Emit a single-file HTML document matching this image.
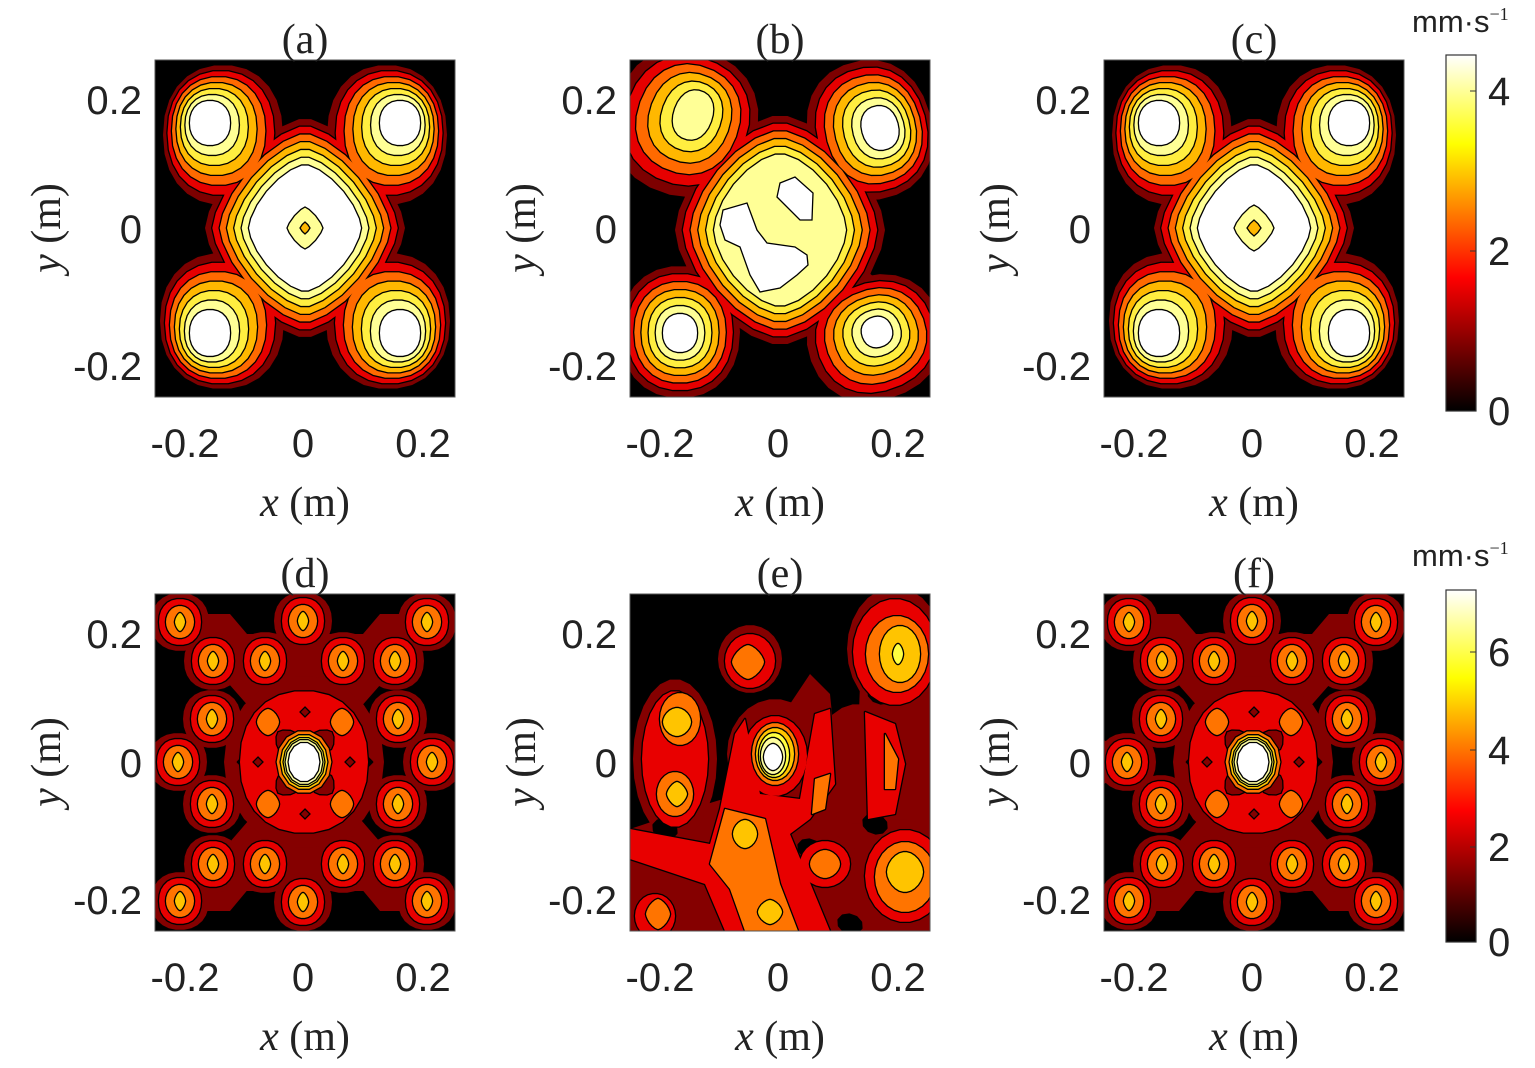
<!DOCTYPE html>
<html><head><meta charset="utf-8"><style>
html,body{margin:0;padding:0;background:#fff;}
svg{display:block}
.tk{font-family:"Liberation Sans",Arial,sans-serif;font-size:40px;fill:#222}
.lb{font-family:"Liberation Serif","Times New Roman",serif;font-size:42px;fill:#222}
</style></head><body>
<svg id="s" width="1535" height="1068" viewBox="0 0 1535 1068" xmlns="http://www.w3.org/2000/svg">
<defs>
<linearGradient id="hot" x1="0" y1="1" x2="0" y2="0">
<stop offset="0" stop-color="#000"/><stop offset="0.375" stop-color="#ff0000"/><stop offset="0.75" stop-color="#ffff00"/><stop offset="1" stop-color="#fff"/>
</linearGradient>
</defs>
</svg>
<script>
const S=document.getElementById('s');const NS='http://www.w3.org/2000/svg';
function el(t,a,p){const e=document.createElementNS(NS,t);for(const k in a)e.setAttribute(k,a[k]);(p||S).appendChild(e);return e;}
function sh(cx,cy,rx,ry,p,rot,n){n=n||26;rot=(rot||0)*Math.PI/180;const pts=[];for(let i=0;i<n;i++){const t=2*Math.PI*i/n,c=Math.cos(t),s=Math.sin(t);let x=rx*Math.sign(c)*Math.pow(Math.abs(c),2/p),y=ry*Math.sign(s)*Math.pow(Math.abs(s),2/p);pts.push([cx+x*Math.cos(rot)-y*Math.sin(rot),cy+x*Math.sin(rot)+y*Math.cos(rot)]);}return pts;}
const TOP=['#7d0000','#000','#e60000','#ff6a00','#ffb800','#ffee40','#ffff96','#ffffff'];
const BOT=['#850000','#000','#e80000','#ff7400','#ffc400','#ffff40','#ffffa0','#ffffff'];
function P(colors){return {L:colors.map(c=>({fill:c,sh:[]})),post:[]};}
function li(k){return k==0?0:k+1;}
function blob(pn,start,o,i,count,p,rot){for(let k=0;k<count;k++){const t=count==1?0:k/(count-1);const v=o.map((a,j)=>a+(i[j]-a)*t);pn.L[li(start+k)].sh.push(sh(v[0],v[1],v[2],v[3],p||2.2,rot||0));}}
function E(pn,lv,cx,cy,rx,ry,p,rot){pn.L[li(lv)].sh.push(sh(cx,cy,rx,ry,p||2,rot||0));}
function poly(pn,lv,pts){pn.L[li(lv)].sh.push(pts);}
function hole(pn,pts){pn.L[1].sh.push(pts);}
function post(pn,fill,pts){pn.post.push({fill,pts});}
function mx(pts){return pts.map(q=>[300-q[0],q[1]]);}
function my(pts){return pts.map(q=>[q[0],337-q[1]]);}
function sq(x,y,r){return [[x,y-r],[x+r,y],[x,y+r],[x-r,y]];}

function panelA(big){const pn=P(TOP);
 blob(pn,0,[68,75,60,70],[55,63,20,22],7);
 blob(pn,0,[232,75,60,70],[245,63,20,22],7);
 blob(pn,0,[67,261,62,68],[55,273,20,23],7);
 blob(pn,0,[233,261,62,68],[245,273,20,23],7);
 blob(pn,0,[150,168,100,110],[150,168,56,63],7,1.5);
 const br=[[110,62],[140,92],[85,145],[55,115]];
 for(const b of [br,mx(br),my(br),mx(my(br))]) poly(pn,0,b);
 const hs=[[105,85],[90,101],[73,117]];
 for(const h of hs){for(const q of [[h[0],h[1]],[300-h[0],h[1]],[h[0],337-h[1]],[300-h[0],337-h[1]]])hole(pn,sq(q[0],q[1],6));}
 post(pn,'#ffff96',sh(150,168,big?20:18,big?23:21,1.3,0,16));
 post(pn,'#ffb800',sh(150,168,big?7:5,big?8:6,1.2,0,8));
 return pn;}
function panelB(){const pn=P(TOP);
 blob(pn,0,[55,62,72,74],[63,55,19,25],6,2.2,20);
 blob(pn,0,[240,70,62,70],[250,68,18,22],7,2.2,-15);
 blob(pn,0,[50,272,60,66],[50,273,17,19],7);
 blob(pn,0,[245,278,68,62],[247,272,15,15],7,2.2,-20);
 blob(pn,0,[150,170,105,115],[150,170,66,76],6,1.6);
 const br=[[105,70],[135,95],[80,140],[50,115]];
 for(const b of [br,mx(br),my(br),mx(my(br))]) poly(pn,0,b);
 for(const h of [[90,100],[75,116],[205,100],[215,116],[85,235],[215,240],[200,255]])hole(pn,sq(h[0],h[1],6));
 post(pn,'#fff',[[150,123],[165,117],[183,133],[182,160],[170,160],[147,137]]);
 post(pn,'#fff',[[93,150],[117,143],[127,170],[137,183],[165,187],[177,195],[178,205],[167,215],[150,228],[130,232],[120,215],[110,187],[95,180],[90,165]]);
 return pn;}
const SB=[[25,28],[148,27],[272,28],[58,67],[110,67],[188,67],[240,67],[57,125],[243,125],[23,168],[277,168],[57,210],[243,210],[58,270],[110,270],[188,270],[240,270],[25,307],[148,308],[272,307]];
function panelD(f){const pn=P(BOT);
 const band=[[40,20],[75,20],[160,120],[160,215],[75,317],[40,317],[30,300],[125,190],[125,148],[30,40]];
 poly(pn,0,band);poly(pn,0,mx(band));
 poly(pn,0,[[90,40],[210,40],[210,70],[150,110],[90,70]]);poly(pn,0,my([[90,40],[210,40],[210,70],[150,110],[90,70]]));
 E(pn,0,149,168,80,86,2);
 for(const b of SB){E(pn,0,b[0],b[1],29,29,2.2);}
 if(f){E(pn,0,0,168,18,22,1.2);E(pn,0,300,168,18,22,1.2);}
 for(const h of [[150,115],[150,222],[95,168],[205,168]])hole(pn,sq(h[0],h[1],12));
 for(const b of SB){E(pn,1,b[0],b[1],21,23,2.2);E(pn,2,b[0],b[1+0],14,16,2);E(pn,3,b[0],b[1],5,9,1.5);}
 E(pn,1,149,168,64,71,2.2);
 for(const q of [[113,128],[187,128],[113,210],[187,210]]) E(pn,2,q[0],q[1],11,13,1.6);
 post(pn,'#850000',sh(132,147,13,12,1.5,45,12));post(pn,'#850000',sh(168,147,13,12,1.5,-45,12));
 post(pn,'#850000',sh(132,190,13,12,1.5,-45,12));post(pn,'#850000',sh(168,190,13,12,1.5,45,12));
 for(const q of [[150,118],[150,220],[103,168],[195,168]])post(pn,'#850000',sq(q[0],q[1],5));
 post(pn,'#ff7400',sh(149,168,28,32,2,0,14));post(pn,'#ffc400',sh(149,168,24,28,2,0,14));
 post(pn,'#ffff40',sh(149,168,21,25,2,0,14));post(pn,'#ffffa0',sh(149,168,19,23,2,0,14));post(pn,'#fff',sh(149,168,16,20,2,0,14));
 return pn;}
function panelE(){const pn=P(BOT);
 poly(pn,0,[[0,235],[60,215],[110,200],[150,195],[200,170],[230,150],[300,140],[300,337],[0,337]]);
 poly(pn,0,[[230,90],[300,80],[300,140],[225,230]]);
 E(pn,0,265,55,48,62,2);E(pn,0,120,65,32,34,2);E(pn,0,45,165,42,80,2);E(pn,0,145,160,48,55,2);
 poly(pn,0,[[160,110],[180,80],[200,100],[210,200],[180,210]]);
 E(pn,0,228,170,45,60,2);
 for(const h of [[35,235],[180,255],[245,230],[155,290],[250,100],[220,330]])hole(pn,sh(h[0],h[1],12,9,2,20,10));
 E(pn,1,265,58,42,53,2);E(pn,2,267,60,31,38,2);E(pn,3,270,60,20,28,2);E(pn,4,268,60,5,10,1.6);
 E(pn,1,120,67,25,27,2);E(pn,2,118,68,16,17,1.5);
 E(pn,1,45,165,33,68,2);E(pn,2,50,125,20,26,2);E(pn,2,45,200,18,22,2);E(pn,3,47,128,14,14,1.8);E(pn,3,47,200,10,12,1.5);
 poly(pn,1,[[0,235],[80,250],[90,215],[105,140],[115,125],[130,200],[170,205],[185,120],[200,115],[205,190],[180,225],[160,240],[200,337],[95,337],[75,290],[0,265]]);
 poly(pn,1,[[235,118],[265,130],[275,170],[265,220],[238,225]]);
 E(pn,1,145,162,32,40,2);E(pn,2,145,160,23,31,2);E(pn,3,145,160,19,26,2);E(pn,4,144,161,15,22,2);E(pn,5,143,162,12,18,2);E(pn,6,143,163,9,13,1.8);
 poly(pn,2,[[95,215],[135,225],[150,290],[168,337],[115,337],[100,295],[80,270]]);
 poly(pn,2,[[185,185],[200,180],[195,215],[182,220]]);
 poly(pn,2,[[255,140],[268,165],[265,195],[255,195]]);
 E(pn,3,115,240,12,14,1.8);E(pn,3,140,318,12,12,1.6);
 E(pn,0,270,282,52,57,2);E(pn,1,275,282,40,46,2);E(pn,2,275,283,30,35,2);E(pn,3,275,278,18,20,1.8);
 E(pn,0,195,270,32,30,2);E(pn,1,195,270,25,23,2);E(pn,2,195,270,15,14,1.8);
 E(pn,0,25,322,28,28,2);E(pn,1,25,322,20,22,2);E(pn,2,28,320,12,15,1.5);
 return pn;}
function draw(pn,ox,oy,id){const cp=el('clipPath',{id});el('rect',{x:0,y:0,width:300,height:337},cp);
 const g=el('g',{transform:`translate(${ox},${oy})`});el('rect',{x:0,y:0,width:300,height:337,fill:'#000'},g);
 const gg=el('g',{'clip-path':`url(#${id})`},g);
 const pstr=p=>p.map(q=>q[0].toFixed(1)+','+q[1].toFixed(1)).join(' ');
 for(const L of pn.L){for(const p of L.sh)el('polygon',{points:pstr(p),fill:L.fill,stroke:'#000','stroke-width':2.6,'stroke-linejoin':'round'},gg);
  for(const p of L.sh)el('polygon',{points:pstr(p),fill:L.fill},gg);}
 for(const q of pn.post)el('polygon',{points:pstr(q.pts),fill:q.fill,stroke:'#000','stroke-width':1.3},gg);
 el('rect',{x:0,y:0,width:300,height:337,fill:'none',stroke:'#555','stroke-width':1},g);}
function txt(x,y,s,cls,anchor,extra){const t=el('text',Object.assign({x,y,class:cls,'text-anchor':anchor||'middle'},extra||{}));t.innerHTML=s;return t;}
const cols=[155,630,1104],rows=[60,594];const titles=[['(a)','(b)','(c)'],['(d)','(e)','(f)']];
const pans=[[panelA(false),panelB(),panelA(true)],[panelD(false),panelE(),panelD(true)]];
for(let r=0;r<2;r++)for(let c=0;c<3;c++){const ox=cols[c],oy=rows[r];draw(pans[r][c],ox,oy,'c'+r+c);
 txt(ox+150,oy-7,titles[r][c],'lb');
 txt(ox-13,oy+54,'0.2','tk','end');txt(ox-13,oy+183,'0','tk','end');txt(ox-13,oy+320,'-0.2','tk','end');
 txt(ox+30,oy+397,'-0.2','tk');txt(ox+148,oy+397,'0','tk');txt(ox+268,oy+397,'0.2','tk');
 txt(ox+150,oy+456,'<tspan font-style="italic">x</tspan> (m)','lb');
 txt(ox-108,oy+168,'<tspan font-style="italic">y</tspan> (m)','lb','middle',{transform:`rotate(-90 ${ox-108} ${oy+168})`,dy:'13'});
}
el('rect',{x:1446,y:55,width:30,height:356,fill:'url(#hot)',stroke:'#333','stroke-width':1.2});
el('rect',{x:1446,y:590,width:30,height:352,fill:'url(#hot)',stroke:'#333','stroke-width':1.2});
for(const [v,y] of [['4',91],['2',251],['0',411]]){txt(1488,y+14,v,'tk','start');el('line',{x1:1470,x2:1476,y1:y,y2:y,stroke:'#333'});}
for(const [v,y] of [['6',652],['4',750],['2',847],['0',942]]){txt(1488,y+14,v,'tk','start');el('line',{x1:1470,x2:1476,y1:y,y2:y,stroke:'#333'});}
for(const y of [32,566]){txt(1412,y,'mm·s<tspan font-family="Liberation Serif" font-size="18" dy="-12">−1</tspan>','tk','start',{style:'font-size:31px'});}
</script>
</body></html>
